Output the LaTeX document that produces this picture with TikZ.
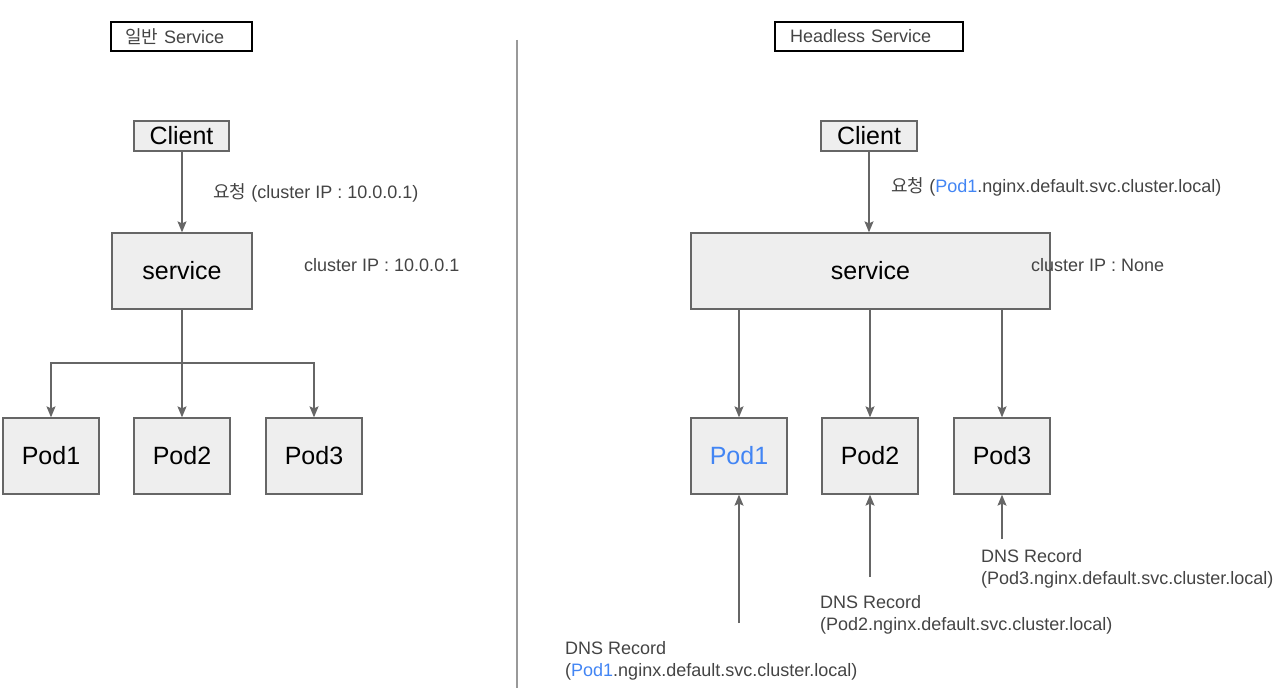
\documentclass[tikz,border=0pt]{standalone}
\usepackage{fontspec}
\setmainfont{Liberation Sans}
\newfontfamily\kr{Noto Sans CJK KR}
\usetikzlibrary{arrows.meta}
\definecolor{boxfill}{HTML}{EEEEEE}
\definecolor{boxline}{HTML}{666666}
\definecolor{txtgray}{HTML}{444444}
\definecolor{podblue}{HTML}{4285F4}
\definecolor{divgray}{HTML}{999999}
\tikzset{
  boxnode/.style={draw=boxline, fill=boxfill, line width=1.3pt, inner sep=0pt,
    font=\fontsize{25}{29}\selectfont, text=black},
  titlenode/.style={draw=black, line width=2pt, inner sep=0pt, minimum height=29pt,
    font=\fontsize{18}{21}\selectfont, text=txtgray},
  lbl/.style={inner sep=0pt, anchor=base west, font=\fontsize{18}{21}\selectfont, text=txtgray},
  conn/.style={draw=boxline, line width=1.3pt},
  arr/.style={conn, -{Stealth[length=11pt,width=9pt,inset=2pt]}},
}
\begin{document}
\begin{tikzpicture}[x=1pt,y=-1pt]
\useasboundingbox (0,0) rectangle (1286,698);
% divider
\coordinate (dtop) at (517,40);
\coordinate (dbot) at (517,688);
\draw[divgray, line width=1.3pt] (dtop) -- (dbot);
% titles
\node[titlenode, text width=141pt, inner xsep=0pt, align=left] (t1) at (181.5,36.5) {\hspace*{14pt}{\kr 일반} Service};
\node[titlenode, text width=188pt, inner xsep=0pt, align=left] (t2) at (869,36.5) {\hspace*{15pt}Headless Service};
% left side
\node[boxnode, minimum width=95pt, minimum height=30pt] (lc) at (181.5,136) {Client};
\node[boxnode, minimum width=140pt, minimum height=76pt] (ls) at (182,271) {service};
\node[boxnode, minimum width=96pt, minimum height=76pt] (lp1) at (51,456) {Pod1};
\node[boxnode, minimum width=96pt, minimum height=76pt] (lp2) at (182,456) {Pod2};
\node[boxnode, minimum width=96pt, minimum height=76pt] (lp3) at (314,456) {Pod3};
\draw[arr] (lc.south -| ls.north) -- (ls.north);
\node[lbl] (ll1) at (213,198) {{\kr 요청} (cluster IP : 10.0.0.1)};
\node[lbl] (ll2) at (304,271) {cluster IP : 10.0.0.1};
\coordinate (lj) at (182,363);
\draw[conn] (ls.south) -- (lj);
\draw[arr] (lj) -- (lp2.north);
\draw[arr] (lj) -| (lp1.north);
\draw[arr] (lj) -| (lp3.north);
% right side
\node[boxnode, minimum width=96pt, minimum height=30pt] (rc) at (869,136) {Client};
\node[boxnode, minimum width=359pt, minimum height=76pt] (rs) at (870.5,271) {service};
\node[boxnode, minimum width=96pt, minimum height=76pt] (rp1) at (739,456) {\textcolor{podblue}{Pod1}};
\node[boxnode, minimum width=96pt, minimum height=76pt] (rp2) at (870,456) {Pod2};
\node[boxnode, minimum width=96pt, minimum height=76pt] (rp3) at (1002,456) {Pod3};
\draw[arr] (rc.south) -- (rc.south |- rs.north);
\node[lbl] (rl1) at (891,193) {{\kr 요청} (\textcolor{podblue}{Pod1}.nginx.default.svc.cluster.local)};
\node[lbl] (rl2) at (1031,271) {cluster IP : None};
\draw[arr] (rs.south -| rp1.north) -- (rp1.north);
\draw[arr] (rs.south -| rp2.north) -- (rp2.north);
\draw[arr] (rs.south -| rp3.north) -- (rp3.north);
\coordinate (d1) at (739,623);
\coordinate (d2) at (870,577);
\coordinate (d3) at (1002,539);
\draw[arr] (d1) -- (rp1.south);
\draw[arr] (d2) -- (rp2.south);
\draw[arr] (d3) -- (rp3.south);
\node[lbl] (r1a) at (565,654) {DNS Record};
\node[lbl] (r1b) at (565,676) {(\textcolor{podblue}{Pod1}.nginx.default.svc.cluster.local)};
\node[lbl] (r2a) at (820,608) {DNS Record};
\node[lbl] (r2b) at (820,630) {(Pod2.nginx.default.svc.cluster.local)};
\node[lbl] (r3a) at (981,562) {DNS Record};
\node[lbl] (r3b) at (981,584) {(Pod3.nginx.default.svc.cluster.local)};
\end{tikzpicture}
\end{document}
